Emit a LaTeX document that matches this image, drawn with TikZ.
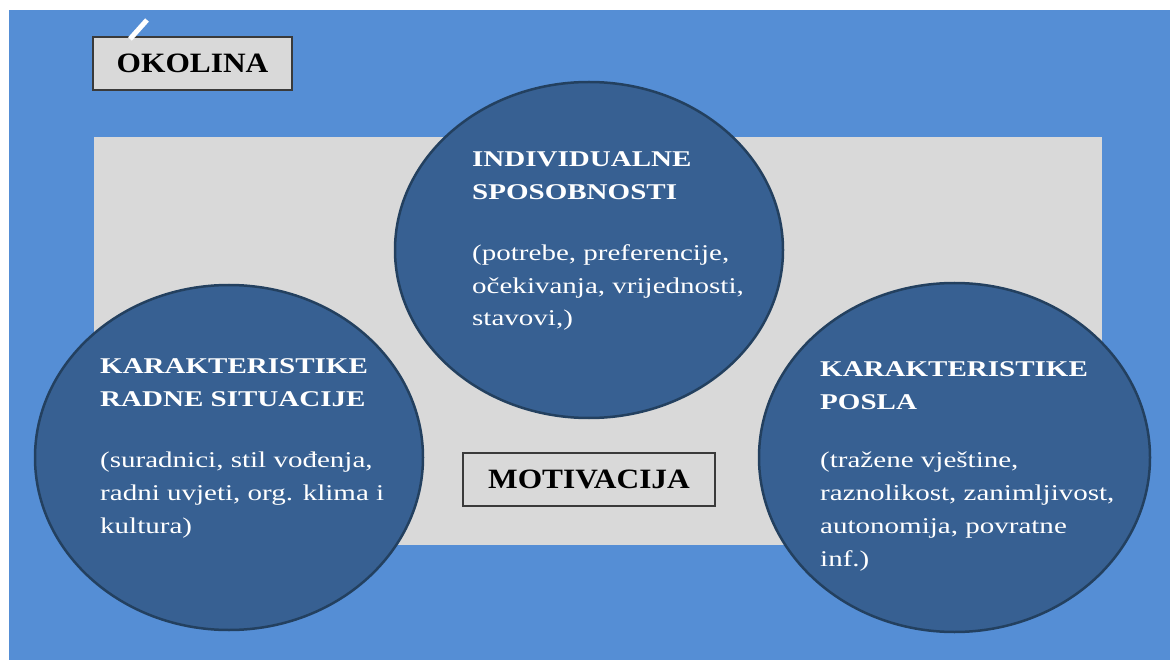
\documentclass[tikz,border=0pt]{standalone}
\usepackage{fontspec}
\setmainfont{Liberation Serif}[FakeStretch=1.29]
\newfontfamily\okvirfont{Liberation Serif}[FakeStretch=1.12]
\usetikzlibrary{shapes.geometric}
\definecolor{pozadina}{HTML}{558ED5}
\definecolor{siva}{HTML}{D9D9D9}
\definecolor{krugplava}{HTML}{376092}
\definecolor{rub}{HTML}{23405F}
\definecolor{crta}{HTML}{3A3A3A}

\begin{document}
\begin{tikzpicture}[x=1pt,y=-1pt]
      \useasboundingbox (0,0) rectangle (1170,660);
      \tikzstyle{okvir} = [draw=crta, line width=2pt, fill=siva, inner sep=0pt, font=\okvirfont\bfseries\fontsize{28}{30}\selectfont]
      \tikzstyle{krug} = [draw=rub, line width=2.5pt, fill=krugplava, ellipse, inner sep=0pt]
      \tikzstyle{naslov} = [white, anchor=base west, align=left, inner sep=0pt, font=\bfseries\fontsize{22.5}{33}\selectfont]
      \tikzstyle{opis} = [white, anchor=base west, align=left, inner sep=0pt, font=\fontsize{22.5}{33}\selectfont]

      \fill[pozadina] (9,10) rectangle (1170,660);
      \fill[siva] (94,137) rectangle (1102,545);

      \node[okvir, minimum width=199, minimum height=53] (okolina) at (192.5,63.5) {OKOLINA};
      \draw[white, line width=5pt] (130,39) -- (147,20);
      \node[okvir, minimum width=252, minimum height=53] (motivacija) at (589,479.5) {MOTIVACIJA};

      \node[krug, minimum width=388, minimum height=336] (sposobnosti) at (589,250) {};
      \node[krug, minimum width=388, minimum height=345] (situacija) at (229,457.5) {};
      \node[krug, minimum width=391, minimum height=349] (posao) at (954.5,457.5) {};

      % base = zadnji redak
      \node[naslov] (sposobnostiT) at (472,200) {INDIVIDUALNE\\SPOSOBNOSTI};
      \node[opis] (sposobnostiO) at (472,326) {(potrebe, preferencije,\\očekivanja, vrijednosti,\\stavovi,)};

      \node[naslov] (situacijaT) at (100,406) {KARAKTERISTIKE\\RADNE SITUACIJE};
      \node[opis] (situacijaO) at (100,533) {(suradnici, stil vođenja,\\radni uvjeti, org. klima i\\kultura)};

      \node[naslov] (posaoT) at (820,409) {KARAKTERISTIKE\\POSLA};
      \node[opis] (posaoO) at (820,566) {(tražene vještine,\\raznolikost, zanimljivost,\\autonomija, povratne\\inf.)};
    \end{tikzpicture}
\end{document}
